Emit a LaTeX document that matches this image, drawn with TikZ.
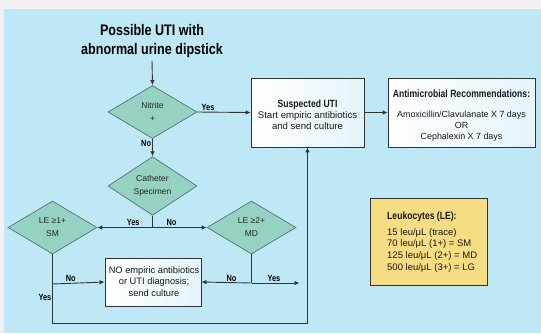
\documentclass[tikz,border=0pt]{standalone}
\usepackage{fontspec}
\setmainfont{Liberation Sans}[BoldFeatures={FakeStretch=0.82}]
\usetikzlibrary{shapes.geometric,arrows.meta}
\definecolor{bgblue}{HTML}{BEE8F6}
\definecolor{bggrey}{HTML}{F1F1F1}
\definecolor{teal}{HTML}{96D2C4}
\definecolor{tealline}{HTML}{4F746D}
\definecolor{linecol}{HTML}{333333}
\definecolor{boxlight}{HTML}{E4F4FA}
\definecolor{yellowbox}{HTML}{F6DC82}
\begin{document}
\begin{tikzpicture}[x=1pt,y=-1pt,
  conn/.style={draw=linecol,line width=0.9pt},
  arr/.style={conn,-{Latex[length=5pt,width=4.5pt]}},
  dec/.style={diamond,draw=tealline,line width=0.7pt,fill=teal,inner sep=0pt,
    minimum width=89pt,minimum height=53pt,align=center,font=\fontsize{8.5}{13}\selectfont,text=black!85},
  box/.style={rectangle,draw=linecol,line width=0.8pt,left color=white,right color=boxlight,inner sep=0pt},
  boxtext/.style={align=center,inner sep=0pt,anchor=base,text=black!90},
  lbl/.style={font=\bfseries\fontsize{9}{10}\selectfont,inner sep=1pt}]
\useasboundingbox (0,0) rectangle (541,333);
\fill[bggrey] (0,0) rectangle (541,333);
\fill[bgblue] (4,9) rectangle (541,333);

\node[font=\bfseries\fontsize{15.3}{18.5}\selectfont,align=center,inner sep=0pt] (title) at (152,41)
  {Possible UTI with\\abnormal urine dipstick};
\node[dec] (nit) at (152.5,112) {Nitrite\\+};
\node[dec] (cath) at (152.5,186) {Catheter\\Specimen};
\node[dec] (le1) at (52.5,227.5) {LE ≥1+\\SM};
\node[dec] (le2) at (251.5,227.5) {LE ≥2+\\MD};

\node[box,minimum width=113pt,minimum height=69pt] (sus) at (307.5,112.5) {};
\node[boxtext,font=\fontsize{9.6}{10.7}\selectfont] (sustext) at (307.5,129.2)
  {{\bfseries\fontsize{10.5}{10.7}\selectfont Suspected UTI}\\[0.8pt]Start empiric antibiotics\\and send culture};
\node[box,minimum width=147pt,minimum height=69pt] (anti) at (461.5,112.5) {};
\node[boxtext,font=\fontsize{8.9}{11}\selectfont] (antitext) at (461.5,139.5)
  {{\bfseries\fontsize{10.5}{11}\selectfont Antimicrobial Recommendations:}\\[9.5pt]Amoxicillin/Clavulanate X 7 days\\OR\\Cephalexin X 7 days};
\node[box,minimum width=96pt,minimum height=48pt] (no) at (153,282) {};
\node[boxtext,font=\fontsize{9.3}{11.7}\selectfont] (notext) at (154,296.6)
  {NO empiric antibiotics\\or UTI diagnosis;\\send culture};
\node[rectangle,draw=linecol,line width=0.8pt,fill=yellowbox,minimum width=117pt,minimum height=87pt,inner sep=0pt] (leu) at (428.5,241.5) {};
\node[anchor=base west,align=left,inner sep=0pt,font=\fontsize{9.5}{11.7}\selectfont,text=black!90] (leutext) at (387,270.1)
  {{\bfseries\fontsize{10.5}{11.7}\selectfont Leukocytes (LE):}\\[3.7pt]15 leu/μL (trace)\\70 leu/μL (1+) = SM\\125 leu/μL (2+) = MD\\500 leu/μL (3+) = LG};

\coordinate (j1) at (152.5,227.5);
\coordinate (j2) at (251.5,283);
\coordinate (b1) at (52.5,284);
\coordinate (corner) at (52.5,323);
\coordinate (vline) at (307.5,283);

\draw[arr] (title.south) ++(0,3) -- (nit.north);
\draw[arr] (nit.east) -- node[lbl,above,pos=0.2] {Yes} (sus.west);
\draw[arr] (sus.east) -- (anti.west);
\draw[arr] (nit.south) -- node[lbl,left,pos=0.25] {No} (cath.north);
\draw[conn] (cath.south) -- (j1);
\draw[arr] (j1) -- node[lbl,above,pos=0.35] {Yes} (le1.east);
\draw[arr] (j1) -- node[lbl,above,pos=0.35] {No} (le2.west);
\draw[arr] (le1.south) -- (corner) -| (sus.south);
\draw[arr] (b1) -- node[lbl,above,pos=0.35] {No} (no.west);
\node[lbl,left] at (52.5,297) {Yes};
\draw[conn] (le2.south) -- (j2);
\draw[arr] (j2) -- node[lbl,above,pos=0.4] {No} (no.east);
\draw[arr,shorten >=8pt] (j2) -- node[lbl,above,pos=0.4] {Yes} (vline);
\end{tikzpicture}
\end{document}
